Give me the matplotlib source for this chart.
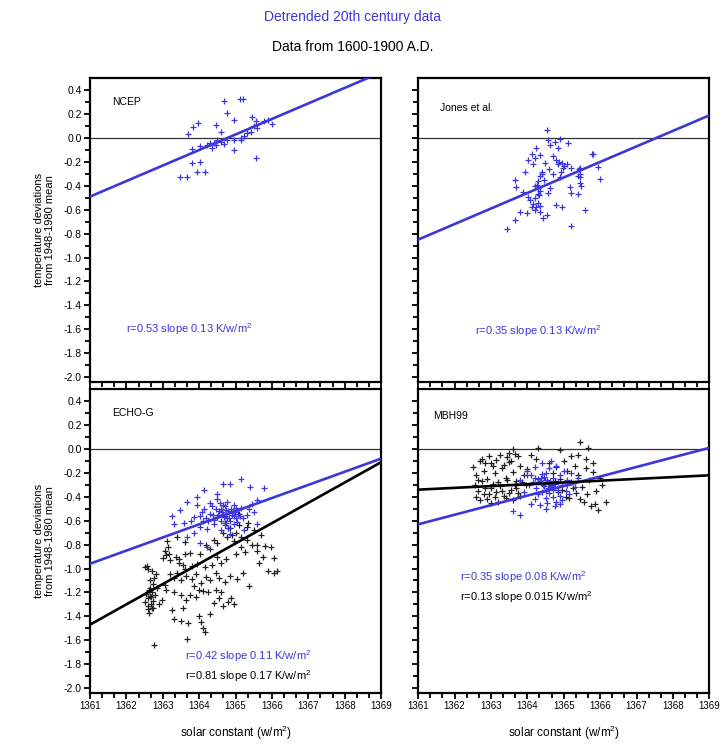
import matplotlib
matplotlib.use("Agg")
import matplotlib.pyplot as plt
import numpy as np

plt.rcParams['font.family'] = ['Liberation Sans', 'DejaVu Sans']
plt.rcParams['mathtext.fontset'] = 'custom'
plt.rcParams['mathtext.rm'] = 'Liberation Sans'
plt.rcParams['mathtext.it'] = 'Liberation Sans'

BLUE = '#3b37d8'

# --- NCEP (20th century, detrended) ---
ncep_x = [1364.68, 1365.12, 1365.20, 1364.77, 1364.95, 1363.70, 1363.82, 1363.98,
          1364.45, 1364.59, 1365.46, 1365.55, 1365.78, 1366.01, 1365.90,
          1363.80, 1364.03, 1364.22, 1364.30, 1364.40, 1364.50, 1364.59, 1364.68,
          1364.77, 1364.95, 1365.14, 1365.22, 1365.32, 1365.41, 1365.60, 1365.14,
          1364.95, 1365.50, 1364.35, 1364.45,
          1363.80, 1364.03, 1363.48, 1363.67, 1363.94, 1364.17, 1365.55]
ncep_y = [0.31, 0.33, 0.33, 0.21, 0.15, 0.03, 0.09, 0.13,
          0.11, 0.05, 0.18, 0.14, 0.14, 0.12, 0.15,
          -0.09, -0.07, -0.06, -0.04, -0.045, -0.02, -0.03, -0.05,
          -0.02, -0.02, 0.00, 0.02, 0.04, 0.05, 0.08, -0.02,
          -0.10, 0.10, -0.08, -0.06,
          -0.21, -0.20, -0.33, -0.33, -0.28, -0.28, -0.17]

# --- Jones et al. ---
jones_x = [1364.53, 1364.57, 1364.75, 1364.89, 1365.12, 1364.62, 1364.84, 1364.25,
           1364.12, 1364.34, 1365.80, 1364.20, 1364.02, 1364.71, 1364.80, 1364.84,
           1364.94, 1365.02, 1365.10, 1365.21, 1365.44, 1364.48, 1364.16, 1363.93,
           1364.39, 1363.66, 1364.34, 1364.30, 1364.26, 1364.30, 1364.34, 1364.22,
           1365.39, 1365.44, 1365.99, 1363.70, 1363.88, 1364.62, 1364.57, 1365.16,
           1365.21, 1364.07, 1364.15, 1364.25, 1364.34, 1364.20, 1364.02, 1363.79,
           1363.98, 1363.66, 1363.43, 1365.58, 1365.21, 1364.80, 1364.94, 1364.43,
           1364.53, 1365.79, 1365.94, 1365.42, 1365.45, 1365.48, 1365.40, 1365.44,
           1364.40, 1364.45, 1364.60, 1364.70, 1364.90, 1364.28,
           1364.20, 1364.28, 1364.36, 1364.88, 1364.98, 1364.92, 1364.32, 1364.12]
jones_y = [0.07, -0.02, -0.03, -0.01, -0.04, -0.06, -0.08, -0.08,
           -0.13, -0.14, -0.135, -0.17, -0.18, -0.15, -0.18, -0.22,
           -0.21, -0.23, -0.22, -0.25, -0.25, -0.21, -0.22, -0.28,
           -0.28, -0.35, -0.32, -0.36, -0.39, -0.42, -0.44, -0.40,
           -0.32, -0.38, -0.34, -0.41, -0.45, -0.42, -0.46, -0.41,
           -0.46, -0.52, -0.55, -0.58, -0.62, -0.60, -0.49, -0.62,
           -0.63, -0.69, -0.76, -0.60, -0.74, -0.56, -0.58, -0.67,
           -0.64, -0.13, -0.24, -0.26, -0.33, -0.40, -0.47, -0.30,
           -0.30, -0.35, -0.26, -0.30, -0.33, -0.47,
           -0.50, -0.54, -0.57, -0.20, -0.25, -0.28, -0.48, -0.58]

# --- ECHO-G: 20th century detrended (blue) ---
echo_blue_x = [1364.14, 1364.66, 1364.86, 1365.14, 1365.40, 1365.78, 1365.60,
               1363.67, 1363.94, 1364.13, 1364.49, 1364.77, 1364.95, 1365.14,
               1365.37, 1365.50, 1363.48, 1363.25, 1364.31, 1364.49, 1364.59,
               1364.77, 1364.95, 1364.40, 1364.03, 1364.22, 1363.85, 1363.67,
               1364.59, 1364.86, 1364.03, 1364.22, 1365.23, 1365.60, 1363.30,
               1363.85, 1364.03, 1364.55, 1364.65, 1364.72, 1364.80, 1364.90,
               1365.00, 1365.08, 1364.60, 1364.70, 1364.85, 1365.05, 1364.42,
               1364.35, 1364.25, 1365.20, 1365.30, 1364.10, 1364.70, 1364.95,
               1365.45, 1363.95, 1364.50, 1364.78,
               1364.45, 1364.52, 1364.62, 1364.68, 1364.75, 1364.82, 1364.88,
               1364.98, 1365.02, 1365.12, 1364.58, 1364.66, 1364.74, 1364.92,
               1364.38, 1364.30, 1364.18, 1364.08, 1363.78, 1363.58]
echo_blue_y = [-0.34, -0.29, -0.29, -0.25, -0.32, -0.33, -0.43,
               -0.44, -0.47, -0.50, -0.415, -0.44, -0.47, -0.49,
               -0.50, -0.53, -0.51, -0.56, -0.54, -0.57, -0.60,
               -0.58, -0.63, -0.63, -0.65, -0.67, -0.70, -0.74,
               -0.68, -0.71, -0.79, -0.82, -0.68, -0.63, -0.63,
               -0.57, -0.56, -0.52, -0.54, -0.56, -0.52, -0.55,
               -0.58, -0.54, -0.50, -0.48, -0.60, -0.61, -0.59,
               -0.48, -0.60, -0.58, -0.55, -0.60, -0.64, -0.56,
               -0.46, -0.40, -0.38, -0.66,
               -0.50, -0.55, -0.53, -0.57, -0.51, -0.58, -0.50,
               -0.53, -0.49, -0.56, -0.45, -0.47, -0.62, -0.52,
               -0.55, -0.45, -0.58, -0.53, -0.60, -0.62]

# --- ECHO-G: 1600-1900 (black) ---
echo_black_x = [1365.10, 1365.30, 1365.50, 1365.70, 1365.97, 1365.80, 1365.60,
                1364.77, 1364.95, 1365.14, 1364.49, 1364.31, 1364.03, 1363.12,
                1363.15, 1363.18, 1363.05, 1362.57, 1362.60, 1362.52, 1362.70,
                1362.75, 1362.72, 1362.80, 1362.65, 1363.00, 1363.10, 1363.20,
                1363.35, 1363.45, 1363.60, 1363.76, 1363.20, 1363.30, 1363.40,
                1363.50, 1363.65, 1363.80, 1363.90, 1364.05, 1364.20, 1364.30,
                1364.45, 1364.55, 1364.70, 1364.85, 1365.05, 1365.20, 1363.10,
                1363.30, 1363.50, 1363.65, 1363.75, 1363.90, 1364.10, 1364.25,
                1364.40, 1364.55, 1364.65, 1362.98, 1362.90, 1362.78, 1362.70,
                1362.55, 1362.50, 1362.58, 1362.62, 1362.68, 1362.60, 1362.66,
                1362.72, 1364.00, 1364.05, 1364.10, 1364.15, 1363.30, 1363.50,
                1363.70, 1362.75, 1363.67, 1365.36, 1366.05, 1366.15, 1366.05,
                1364.87, 1364.95, 1364.80, 1364.60, 1364.35, 1364.15, 1363.95,
                1363.80, 1364.50, 1364.75, 1365.00, 1365.25, 1365.45, 1365.60,
                1365.75, 1364.20, 1364.40, 1364.65, 1364.90, 1363.60, 1363.40,
                1363.85, 1364.00, 1365.35, 1365.15, 1364.85, 1363.05, 1362.85,
                1363.25, 1363.55, 1364.30, 1364.60, 1365.90, 1365.65, 1364.45,
                1362.62, 1362.68, 1362.74, 1362.58, 1362.64, 1362.70, 1363.45,
                1363.55, 1363.62, 1364.70, 1364.80, 1365.00, 1365.10, 1365.30]
echo_black_y = [-0.54, -0.65, -0.68, -0.72, -0.82, -0.81, -0.80,
                -0.74, -0.77, -0.82, -0.79, -0.84, -0.88, -0.77,
                -0.82, -0.88, -0.85, -0.98, -1.00, -0.99, -1.02,
                -1.08, -1.13, -1.05, -1.10, -0.91, -0.89, -0.93,
                -0.90, -0.92, -0.88, -0.87, -1.05, -1.08, -1.04,
                -1.10, -1.06, -1.09, -1.05, -1.12, -1.07, -1.10,
                -1.04, -1.08, -1.11, -1.06, -1.09, -1.04, -1.18,
                -1.20, -1.22, -1.26, -1.22, -1.24, -1.19, -1.20,
                -1.29, -1.25, -1.31, -1.26, -1.30, -1.22, -1.20,
                -1.21, -1.28, -1.34, -1.37, -1.30, -1.25, -1.23,
                -1.33, -1.40, -1.45, -1.50, -1.53, -1.42, -1.44,
                -1.46, -1.64, -1.59, -1.15, -1.04, -1.02, -0.91,
                -1.25, -1.30, -1.28, -0.95, -0.97, -0.99, -0.96,
                -0.98, -0.90, -0.92, -0.88, -0.86, -0.80, -0.85,
                -0.90, -0.80, -0.76, -0.70, -0.72, -0.78, -0.74,
                -1.15, -1.18, -0.62, -0.74, -0.66, -1.14, -1.16,
                -1.35, -1.33, -1.38, -1.20, -1.02, -0.95, -1.18,
                -1.18, -1.24, -1.27, -1.31, -1.16, -1.33, -0.95,
                -0.97, -1.00, -0.62, -0.66, -0.70, -0.64, -0.76]

# --- MBH99: 20th century detrended (blue) ---
mbh_blue_x = [1364.00, 1364.10, 1364.20, 1364.30, 1364.40, 1364.50, 1364.60,
              1364.70, 1364.80, 1364.90, 1365.00, 1365.10, 1365.20, 1364.05,
              1364.15, 1364.25, 1364.35, 1364.45, 1364.55, 1364.65, 1364.75,
              1364.85, 1364.95, 1365.05, 1364.30, 1364.40, 1364.50, 1364.60,
              1364.70, 1364.80, 1364.90, 1364.20, 1364.35, 1364.55, 1364.75,
              1364.95, 1365.15, 1363.90, 1363.80, 1364.45, 1364.65, 1364.85,
              1363.60, 1363.80, 1364.10, 1364.50, 1364.90, 1365.30, 1365.40,
              1364.60, 1364.40, 1364.20, 1364.00, 1365.10, 1364.70, 1364.30,
              1364.42, 1364.48, 1364.58, 1364.62, 1364.68, 1364.52, 1364.38]
mbh_blue_y = [-0.18, -0.22, -0.15, -0.25, -0.12, -0.20, -0.16,
              -0.24, -0.14, -0.22, -0.18, -0.26, -0.20, -0.30,
              -0.28, -0.33, -0.27, -0.31, -0.26, -0.32, -0.29,
              -0.34, -0.30, -0.35, -0.38, -0.36, -0.41, -0.37,
              -0.40, -0.44, -0.39, -0.42, -0.47, -0.45, -0.48,
              -0.43, -0.38, -0.36, -0.26, -0.23, -0.10, -0.28,
              -0.52, -0.55, -0.46, -0.50, -0.46, -0.32, -0.24,
              -0.29, -0.21, -0.24, -0.22, -0.30, -0.34, -0.28,
              -0.30, -0.26, -0.33, -0.27, -0.31, -0.35, -0.24]

# --- MBH99: 1600-1900 (black) ---
mbh_black_x = [1363.61, 1364.30, 1365.44, 1365.67, 1364.89, 1362.50, 1362.60,
               1362.70, 1362.80, 1362.90, 1363.00, 1363.10, 1363.20, 1363.30,
               1363.40, 1363.50, 1363.60, 1363.70, 1363.80, 1363.90, 1364.00,
               1362.55, 1362.65, 1362.75, 1362.85, 1362.95, 1363.05, 1363.15,
               1363.25, 1363.35, 1363.45, 1363.55, 1363.65, 1363.75, 1363.85,
               1362.60, 1362.70, 1362.80, 1362.90, 1363.00, 1363.10, 1363.20,
               1363.30, 1363.40, 1363.50, 1363.60, 1363.70, 1363.80, 1363.95,
               1362.75, 1362.85, 1362.95, 1363.05, 1363.15, 1363.25, 1363.35,
               1363.45, 1363.55, 1363.65, 1364.60, 1364.70, 1364.80, 1364.90,
               1365.00, 1365.10, 1365.20, 1365.30, 1365.40, 1365.50, 1365.60,
               1365.70, 1365.80, 1365.90, 1366.00, 1364.65, 1364.85, 1365.05,
               1365.25, 1365.45, 1365.65, 1365.85, 1366.05, 1366.17, 1365.93,
               1365.75, 1365.55, 1365.35, 1365.15, 1364.95, 1364.75, 1365.20,
               1365.60, 1365.80, 1365.40, 1364.10, 1364.25, 1363.75, 1363.50,
               1362.65, 1363.00]
mbh_black_y = [0.00, 0.01, 0.06, 0.01, -0.01, -0.15, -0.22,
               -0.10, -0.18, -0.25, -0.12, -0.20, -0.28, -0.16,
               -0.24, -0.11, -0.19, -0.27, -0.14, -0.22, -0.17,
               -0.30, -0.35, -0.27, -0.33, -0.38, -0.29, -0.36,
               -0.31, -0.39, -0.26, -0.34, -0.30, -0.37, -0.28,
               -0.40, -0.43, -0.38, -0.42, -0.45, -0.40, -0.44,
               -0.35, -0.41, -0.37, -0.43, -0.33, -0.39, -0.30,
               -0.08, -0.12, -0.06, -0.14, -0.09, -0.05, -0.13,
               -0.07, -0.10, -0.04, -0.12, -0.20, -0.15, -0.25,
               -0.10, -0.18, -0.28, -0.14, -0.22, -0.32, -0.16,
               -0.26, -0.19, -0.35, -0.24, -0.30, -0.36, -0.40,
               -0.33, -0.42, -0.38, -0.46, -0.30, -0.44, -0.51,
               -0.48, -0.44, -0.37, -0.41, -0.34, -0.27, -0.06,
               -0.08, -0.12, -0.05, -0.05, -0.08, -0.06, -0.03,
               -0.26, -0.33]

# regression lines: value at 1361 and slope (K per W/m2)
x_range = [1361, 1369]
ncep_fit = (-0.49, 0.13)
jones_fit = (-0.85, 0.13)
echo_blue_fit = (-0.96, 0.11)
echo_black_fit = (-1.47, 0.17)
mbh_blue_fit = (-0.63, 0.08)
mbh_black_fit = (-0.34, 0.015)

x_ticks = list(range(1361, 1370))
y_ticks = [0.4, 0.2, 0.0, -0.2, -0.4, -0.6, -0.8, -1.0, -1.2, -1.4, -1.6, -1.8, -2.0]


def fit_line(ax, fit, color):
    y0, slope = fit
    ys = [y0 + slope * (x - x_range[0]) for x in x_range]
    ax.plot(x_range, ys, color=color, lw=1.9, zorder=4)


def setup(ax, ylab, xlab):
    ax.set_xlim(1361, 1369)
    ax.set_ylim(-2.04, 0.5)
    ax.axhline(0, color='#333333', lw=0.9, zorder=1)
    for s in ax.spines.values():
        s.set_linewidth(1.6)
    ax.set_xticks(x_ticks)
    ax.set_xticks(np.arange(1361, 1369.01, 1 / 3), minor=True)
    ax.set_yticks(y_ticks)
    ax.set_yticks(np.arange(-2.0, 0.45, 0.1), minor=True)
    ax.tick_params(which='both', direction='out', width=1.3, length=4.5,
                   labelsize=7.5, pad=1.5)
    ax.tick_params(which='minor', length=3.5)
    if ylab:
        ax.set_yticklabels(['%.1f' % v for v in y_ticks])
        ax.set_ylabel('temperature deviations\nfrom 1948-1980 mean',
                      fontsize=8, labelpad=6, linespacing=1.1)
    else:
        ax.set_yticklabels([])
    if xlab:
        ax.set_xticklabels([str(v) for v in x_ticks], fontsize=7)
        ax.set_xlabel(r'solar constant (w/m$^{2}$)', fontsize=8.5, labelpad=9)
    else:
        ax.set_xticklabels([])


fig = plt.figure(figsize=(7.26, 7.53), dpi=100)
w, h = 0.401, 0.403
ax_tl = fig.add_axes([0.124, 0.493, w, h])
ax_tr = fig.add_axes([0.576, 0.493, w, h])
ax_bl = fig.add_axes([0.124, 0.080, w, h])
ax_br = fig.add_axes([0.576, 0.080, w, h])

pm = dict(marker='+', ls='none', ms=5, mew=0.9, zorder=3)

# NCEP
ax = ax_tl
setup(ax, True, False)
ax.plot(ncep_x, ncep_y, color=BLUE, **pm)
fit_line(ax, ncep_fit, BLUE)
ax.text(1361.6, 0.30, 'NCEP', fontsize=7.5, va='center')
ax.text(1362.0, -1.6, r'r=0.53 slope 0.13 K/w/m$^{2}$', color=BLUE,
        fontsize=8, va='center')

# Jones et al.
ax = ax_tr
setup(ax, False, False)
ax.plot(jones_x, jones_y, color=BLUE, **pm)
fit_line(ax, jones_fit, BLUE)
ax.text(1361.6, 0.25, 'Jones et al.', fontsize=7.5, va='center')
ax.text(1362.55, -1.62, r'r=0.35 slope 0.13 K/w/m$^{2}$', color=BLUE,
        fontsize=8, va='center')

# ECHO-G
ax = ax_bl
setup(ax, True, True)
ax.plot(echo_black_x, echo_black_y, color='#222222', **pm)
ax.plot(echo_blue_x, echo_blue_y, color=BLUE, **pm)
fit_line(ax, echo_blue_fit, BLUE)
fit_line(ax, echo_black_fit, 'black')
ax.text(1361.6, 0.30, 'ECHO-G', fontsize=7.5, va='center')
ax.text(1363.6, -1.73, r'r=0.42 slope 0.11 K/w/m$^{2}$', color=BLUE,
        fontsize=8, va='center')
ax.text(1363.6, -1.90, r'r=0.81 slope 0.17 K/w/m$^{2}$', color='black',
        fontsize=8, va='center')

# MBH99
ax = ax_br
setup(ax, False, True)
ax.plot(mbh_black_x, mbh_black_y, color='#222222', **pm)
ax.plot(mbh_blue_x, mbh_blue_y, color=BLUE, **pm)
fit_line(ax, mbh_blue_fit, BLUE)
fit_line(ax, mbh_black_fit, 'black')
ax.text(1361.4, 0.28, 'MBH99', fontsize=7.5, va='center')
ax.text(1362.15, -1.07, r'r=0.35 slope 0.08 K/w/m$^{2}$', color=BLUE,
        fontsize=8, va='center')
ax.text(1362.15, -1.24, r'r=0.13 slope 0.015 K/w/m$^{2}$', color='black',
        fontsize=8, va='center')

fig.text(0.486, 0.977, 'Detrended 20th century data', color=BLUE,
         fontsize=10, ha='center', va='center')
fig.text(0.486, 0.938, 'Data from 1600-1900 A.D.', color='black',
         fontsize=10, ha='center', va='center')

fig.savefig('out.png', dpi=100)
